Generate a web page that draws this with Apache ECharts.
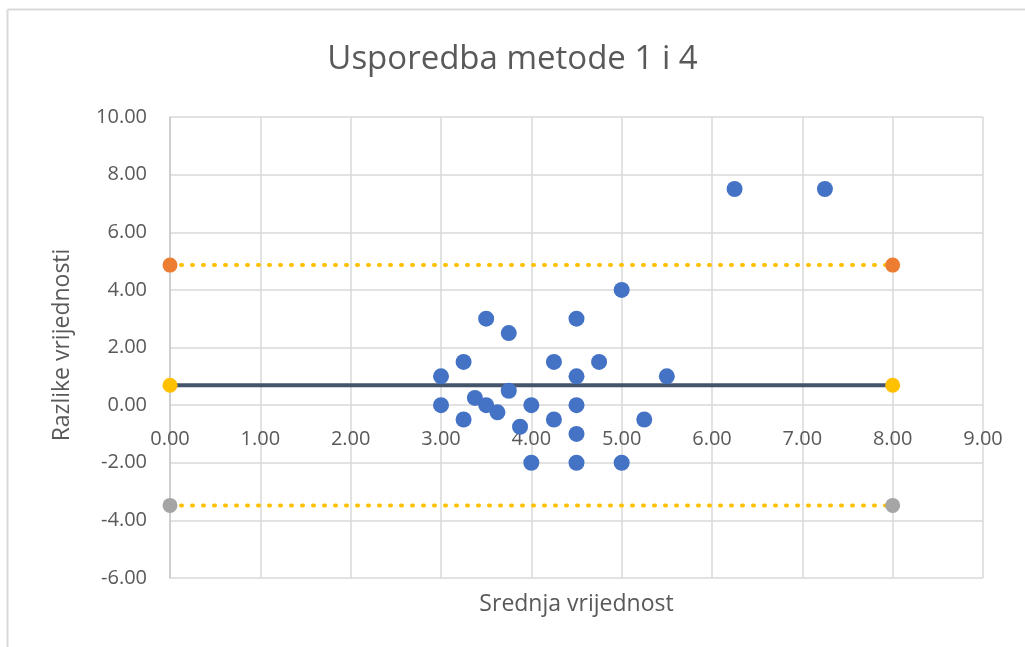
<!DOCTYPE html>
<html>
<head>
<meta charset="utf-8">
<title>Usporedba metode 1 i 4</title>
<script src="https://cdn.jsdelivr.net/npm/echarts@6/dist/echarts.min.js"></script>
<style>
  html, body { margin: 0; padding: 0; background: #fff; }
  #chart { width: 1025px; height: 647px; }
</style>
</head>
<body>
<div id="chart"></div>
<script>
  // srednja vrijednost (x) i razlika (y) za svaki par mjerenja
  var meanValues = [5.0, 3.5, 4.5, 3.75, 3.25, 4.25, 4.75, 3.0, 4.5, 5.5, 3.75, 3.375, 3.0, 3.5,
    3.625, 4.0, 4.5, 3.25, 4.25, 5.25, 3.875, 4.5, 4.0, 4.5, 5.0, 6.25, 7.25];
  var diffValues = [4.0, 3.0, 3.0, 2.5, 1.5, 1.5, 1.5, 1.0, 1.0, 1.0, 0.5, 0.25, 0.0, 0.0,
    -0.25, 0.0, 0.0, -0.5, -0.5, -0.5, -0.75, -1.0, -2.0, -2.0, -2.0, 7.5, 7.5];

  // granice slaganja
  var lineX = [0, 8];
  var biasValue = 0.69;
  var upperLimit = 4.86;
  var lowerLimit = -3.48;

  var xTicks = { min: 0, max: 9, step: 1 };
  var yTicks = { min: -6, max: 10, step: 2 };

  var font = '"Open Sans", "Noto Sans", sans-serif';
  var textColor = '#595959';
  var gridColor = '#D9D9D9';

  // plot area
  var plotLeft = 170, plotRight = 42, plotTop = 117, plotBottom = 69;
  var plotHeight = 647 - plotTop - plotBottom;
  // height down to y = 0, so the x labels sit on the zero line like in excel
  var zeroHeight = plotHeight * yTicks.max / (yTicks.max - yTicks.min);

  function pairs(xs, ys) {
    return xs.map(function (x, i) { return [x, ys[i]]; });
  }
  function flat(v) {
    return lineX.map(function (x) { return [x, v]; });
  }
  function fmt(v) { return v.toFixed(2); }

  var chart = echarts.init(document.getElementById('chart'));
  chart.setOption({
    animation: false,
    backgroundColor: '#fff',
    title: {
      text: 'Usporedba metode 1 i 4',
      left: 'center',
      top: 38,
      textStyle: { fontFamily: font, fontSize: 33, fontWeight: 'normal', color: textColor }
    },
    grid: [
      { left: plotLeft, right: plotRight, top: plotTop, bottom: plotBottom },
      { left: plotLeft, right: plotRight, top: plotTop, height: zeroHeight }
    ],
    xAxis: [
      {
        type: 'value',
        gridIndex: 0,
        min: xTicks.min,
        max: xTicks.max,
        interval: xTicks.step,
        axisLine: { show: false },
        axisTick: { show: false },
        axisLabel: { show: false },
        splitLine: { show: true, lineStyle: { color: gridColor, width: 1.5 } }
      },
      {
        type: 'value',
        gridIndex: 1,
        min: xTicks.min,
        max: xTicks.max,
        interval: xTicks.step,
        axisLine: { show: false },
        axisTick: { show: false },
        splitLine: { show: false },
        axisLabel: { margin: 24, fontFamily: font, fontSize: 20, color: textColor, formatter: fmt }
      }
    ],
    yAxis: [
      {
        type: 'value',
        gridIndex: 0,
        min: yTicks.min,
        max: yTicks.max,
        interval: yTicks.step,
        axisLine: { show: true, onZero: false, lineStyle: { color: '#C8C8C8', width: 1.5 } },
        axisTick: { show: false },
        axisLabel: { margin: 23, fontFamily: font, fontSize: 20, color: textColor, formatter: fmt },
        splitLine: { show: true, lineStyle: { color: gridColor, width: 1.5 } }
      },
      {
        type: 'value',
        gridIndex: 1,
        min: 0,
        max: yTicks.max,
        show: false
      }
    ],
    graphic: [
      { type: 'line', shape: { x1: 7.5, y1: 9.5, x2: 1025, y2: 9.5 }, style: { stroke: gridColor, lineWidth: 2 } },
      { type: 'line', shape: { x1: 7.5, y1: 9.5, x2: 7.5, y2: 647 }, style: { stroke: gridColor, lineWidth: 2 } },
      {
        type: 'text', x: 576.5, y: 604,
        style: { text: 'Srednja vrijednost', font: '23px ' + font, fill: textColor, align: 'center', verticalAlign: 'middle' }
      },
      {
        type: 'text', x: 62, y: 345, rotation: Math.PI / 2,
        style: { text: 'Razlike vrijednosti', font: '23px ' + font, fill: textColor, align: 'center', verticalAlign: 'middle' }
      }
    ],
    series: [
      {
        name: 'Gornja granica',
        type: 'line',
        data: flat(upperLimit),
        symbol: 'circle', symbolSize: 15,
        itemStyle: { color: '#ED7D31' },
        lineStyle: { color: '#FFC000', width: 4, type: [1, 10], cap: 'round' },
        z: 3
      },
      {
        name: 'Donja granica',
        type: 'line',
        data: flat(lowerLimit),
        symbol: 'circle', symbolSize: 15,
        itemStyle: { color: '#A5A5A5' },
        lineStyle: { color: '#FFC000', width: 4, type: [1, 10], cap: 'round' },
        z: 3
      },
      {
        name: 'Prosjek razlika',
        type: 'line',
        data: flat(biasValue),
        symbol: 'circle', symbolSize: 15,
        itemStyle: { color: '#FFC000' },
        lineStyle: { color: '#44546A', width: 4 },
        z: 3
      },
      {
        name: 'Razlike',
        type: 'scatter',
        data: pairs(meanValues, diffValues),
        symbolSize: 16,
        itemStyle: { color: '#4472C4', opacity: 1 },
        z: 4
      }
    ]
  });
</script>
</body>
</html>
